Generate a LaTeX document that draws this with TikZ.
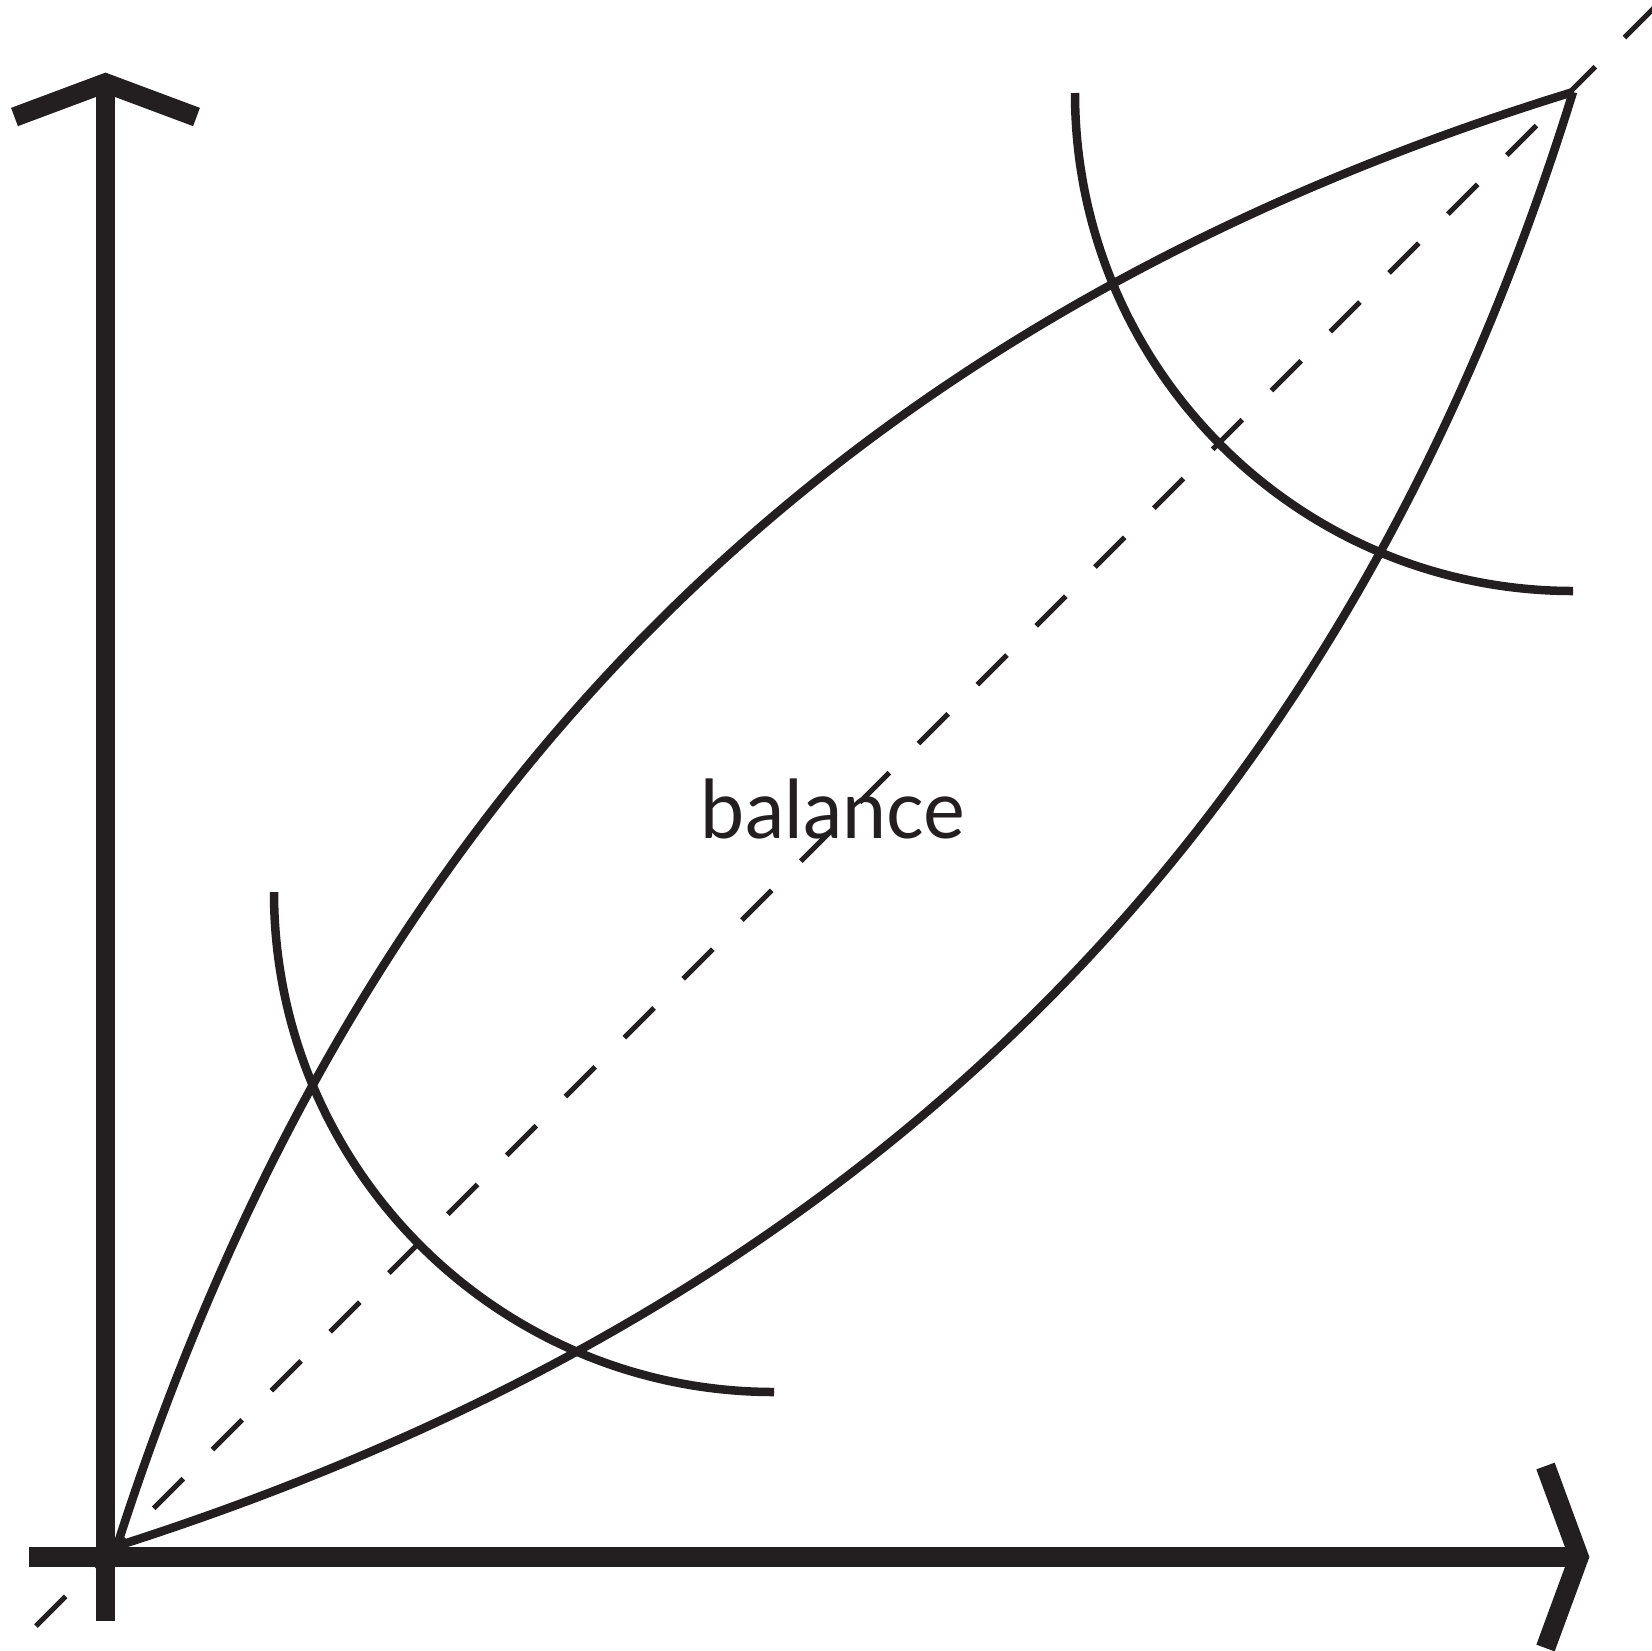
\documentclass[tikz,border=0pt]{standalone}
\usepackage{fontspec}
\setmainfont{Lato}
\definecolor{ink}{HTML}{231F20}
\begin{document}
\begin{tikzpicture}[x=1pt,y=-1pt, color=ink,
  curve/.style={line width=8.5pt, line cap=butt},
  axisline/.style={line width=19.5pt, line cap=butt, line join=miter, miter limit=10},
  diag/.style={line width=5pt, dash pattern=on 42pt off 41.2pt}]
\useasboundingbox (0,0) rectangle (1652,1650);
\clip (0,0) rectangle (1652,1650);
\coordinate (O) at (117,1546);
\coordinate (T) at (1573,92);
\coordinate (A1) at (356,800);
\coordinate (A2) at (826,322);
\coordinate (B1) at (863,1308);
\coordinate (B2) at (1342,838);
\coordinate (D0) at (36,1626);
\coordinate (D1) at (1680,-18);
% dashed diagonal
\draw[diag] (D0) -- (D1);
% label
\node[font=\fontsize{81}{97}\selectfont, anchor=base, inner sep=0pt] (lbl) at (833,838) {\scalebox{0.975}[1]{balance}};
% lens curves
\draw[curve] (O) .. controls (A1) and (A2) .. (T);
\draw[curve] (O) .. controls (B1) and (B2) .. (T);
% arcs
\draw[curve] (274,892) arc[start angle=180, end angle=90, radius=500];
\draw[curve] (1075,93) arc[start angle=180, end angle=90, radius=498];
% axes
\coordinate (Ybot) at (105.5,1621);
\coordinate (Ytop) at (105.5,83);
\coordinate (Yl) at (14.5,117);
\coordinate (Yr) at (196.5,117);
\coordinate (Xl) at (29,1557);
\coordinate (Xr) at (1579,1557);
\coordinate (Xu) at (1545.5,1466);
\coordinate (Xd) at (1545.5,1648);
\draw[axisline] (Ybot) -- (Ytop);
\draw[axisline] (Yl) -- (Ytop) -- (Yr);
\draw[axisline] (Xl) -- (Xr);
\draw[axisline] (Xu) -- (Xr) -- (Xd);
\end{tikzpicture}
\end{document}
